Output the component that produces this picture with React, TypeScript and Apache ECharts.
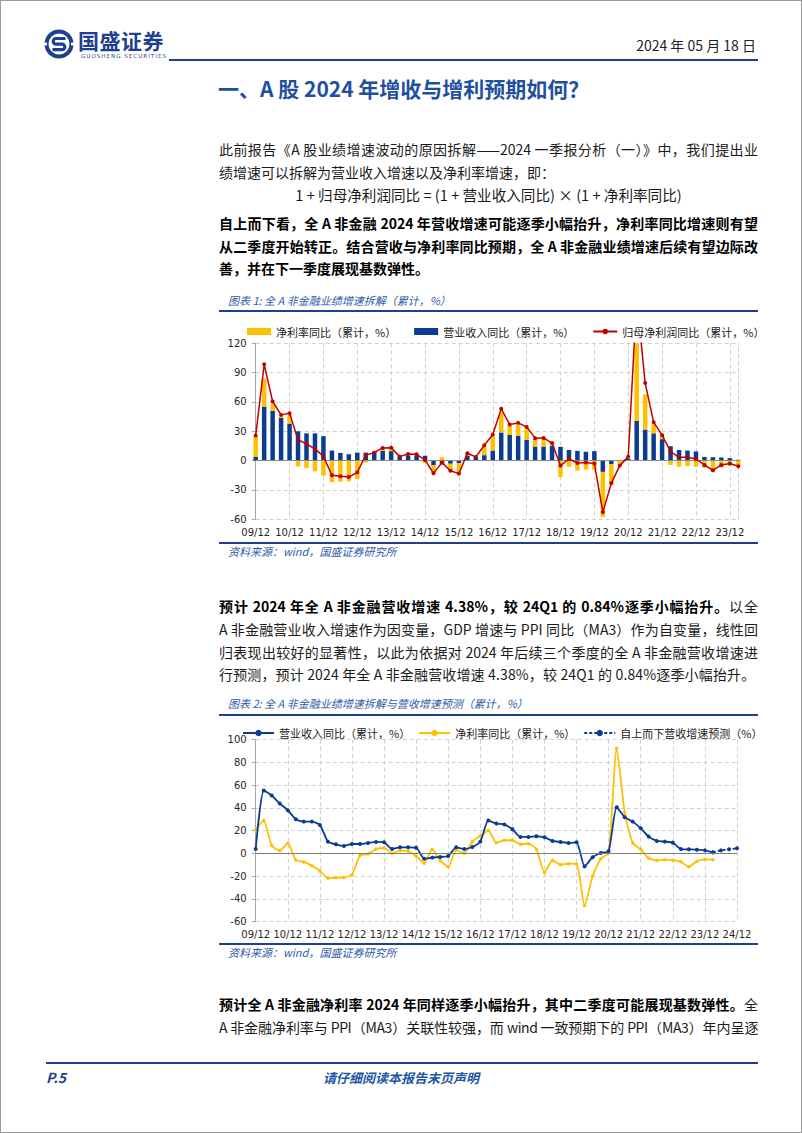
import React, { useEffect, useRef } from "react";
import * as echarts from "echarts";

// ---------- data ----------
const quarterMonths = ["03", "06", "09", "12"];
const yearCodes = ["10", "11", "12", "13", "14", "15", "16", "17", "18", "19", "20", "21", "22", "23", "24"];

// chart 1: 09/12 .. 24/03 (58 quarters); chart 2: 09/12 .. 24/12 (61 quarters)
const categories2: string[] = ["09/12"];
yearCodes.forEach((y) => quarterMonths.forEach((m) => categories2.push(`${y}/${m}`)));
const categories1: string[] = categories2.slice(0, 58);

// 营业收入同比（累计，%）
const revenueYoY = [
  3.8, 55.3, 50.9, 43.8, 37.9, 30.0, 27.9, 27.9, 25.0, 10.3,
  7.9, 6.5, 8.2, 8.2, 9.1, 10.0, 9.7, 3.8, 5.3, 5.3,
  5.0, -4.7, -3.8, -3.2, -2.4, 5.3, 3.8, 5.6, 10.3, 28.8,
  26.2, 25.3, 21.2, 14.4, 14.4, 15.0, 14.1, 10.9, 10.0, 9.1,
  9.7, -11.5, -3.5, 0.3, 2.0, 40.6, 31.8, 27.9, 22.0, 14.7,
  10.9, 10.3, 9.4, 3.8, 3.5, 3.2, 2.6, 0.84,
];

// 净利率同比（累计，%）
const marginYoY = [
  21.2, 28.8, 6.8, 2.4, 8.8, -5.9, -7.6, -10.9, -15.3, -22.0,
  -21.5, -21.2, -18.8, -2.0, -0.6, 3.8, 4.7, 0.0, 2.4, 2.0,
  -2.4, -8.8, 3.5, -6.5, -11.8, 2.9, 0.0, 10.3, 15.3, 20.0,
  9.4, 11.5, 11.5, 7.9, 8.5, 3.5, -16.8, -6.2, -10.0, -9.1,
  -9.4, -45.9, -20.0, -5.0, 0.5, 92.4, 36.0, 9.2, 3.5, -4.4,
  -6.2, -5.6, -6.2, -7.4, -11.8, -7.0, -5.3, -5.6,
];

// 归母净利润同比（累计，%）
const profitYoY = [
  25.6, 98.5, 60.5, 46.8, 48.5, 21.5, 17.0, 12.0, 4.4, -15.0,
  -16.0, -16.8, -12.0, 5.8, 8.2, 13.0, 13.3, 4.1, 6.8, 6.5,
  0.7, -13.0, -2.0, -10.3, -13.3, 7.5, 3.8, 15.7, 26.7, 53.0,
  37.0, 38.6, 34.5, 23.0, 23.2, 18.0, -5.1, 1.7, -2.4, -2.0,
  -3.0, -52.6, -23.2, -5.1, 4.1, 167.0, 79.3, 39.3, 26.0, 9.2,
  3.4, 3.4, 1.7, -4.4, -9.9, -4.4, -3.0, -5.8,
];

// 自上而下营收增速预测（%）: 24/03 .. 24/12
const forecastStart = 57;
const revenueForecast = [0.84, 2.6, 3.5, 4.38];

const chart1YTicks = { min: -60, max: 120, interval: 30 };
const chart2YTicks = { min: -60, max: 100, interval: 20 };

const N1_MARGIN = "净利率同比（累计，%）";
const N1_REV = "营业收入同比（累计，%）";
const N1_PROFIT = "归母净利润同比（累计，%）";
const N2_FC = "自上而下营收增速预测（%）";

// ---------- styles ----------
const BLUE = "#0B3C93";
const GOLD = "#FFC000";
const RED = "#C00000";
const GRID = "#D0D0D0";
const AXIS = "#A6A6A6";
const CJK = '"Noto Sans CJK SC", "Noto Sans", sans-serif';
const NUM = '"DejaVu Sans", sans-serif';
const DARKBLUE = "#1F3F8F";
const CAPBLUE = "#2E5BA8";

const zeroLine = (color: string) => ({
  silent: true,
  symbol: ["none", "none"],
  label: { show: false },
  lineStyle: { color, type: "solid", width: 1 },
  emphasis: { disabled: true },
  data: [{ yAxis: 0 }],
});

function makeOption1() {
  return {
    animation: false,
    textStyle: { fontFamily: CJK },
    legend: {
      left: 241,
      top: 8,
      itemWidth: 24,
      itemHeight: 7,
      itemGap: 18,
      textStyle: { fontSize: 11, color: "#222", fontFamily: CJK },
      data: [
        { name: N1_MARGIN, icon: "rect" },
        { name: N1_REV, icon: "rect" },
        { name: N1_PROFIT },
      ],
    },
    grid: { left: 254.7, right: 64.7, top: 30.3, bottom: 23.7 },
    xAxis: {
      type: "category",
      data: categories1,
      boundaryGap: false,
      axisLine: { show: false },
      axisTick: { show: false },
      axisLabel: { interval: 3, fontSize: 10, color: "#262626", margin: 8, fontFamily: NUM },
      splitLine: { show: true, interval: 3, lineStyle: { color: GRID, type: [4, 3], width: 1 } },
    },
    yAxis: [
      {
        type: "value",
        ...chart1YTicks,
        axisLine: { show: true, lineStyle: { color: AXIS } },
        axisTick: { show: true, length: 4, lineStyle: { color: AXIS } },
        axisLabel: { fontSize: 10, color: "#262626", margin: 9, fontFamily: NUM },
        splitLine: { show: true, lineStyle: { color: GRID, type: [4, 3], width: 1 } },
      },
      {
        type: "value",
        position: "right",
        ...chart1YTicks,
        axisLine: { show: true, lineStyle: { color: GRID, type: [4, 3] } },
        axisTick: { show: false },
        axisLabel: { show: false },
        splitLine: { show: false },
      },
    ],
    series: [
      {
        name: N1_REV,
        type: "bar",
        stack: "total",
        data: revenueYoY,
        barWidth: 4.5,
        itemStyle: { color: BLUE },
        markLine: zeroLine("#8C8C8C"),
      },
      {
        name: N1_MARGIN,
        type: "bar",
        stack: "total",
        data: marginYoY,
        barWidth: 4.5,
        itemStyle: { color: GOLD },
      },
      {
        name: N1_PROFIT,
        type: "line",
        data: profitYoY,
        symbol: "circle",
        symbolSize: 4,
        lineStyle: { color: RED, width: 1.5 },
        itemStyle: { color: RED },
        z: 5,
      },
    ],
  };
}

function makeOption2() {
  const fc = categories2.map((_, i) =>
    i >= forecastStart && i - forecastStart < revenueForecast.length ? revenueForecast[i - forecastStart] : null
  );
  return {
    animation: false,
    textStyle: { fontFamily: CJK },
    legend: {
      left: 236,
      top: 5.5,
      itemWidth: 31,
      itemHeight: 8,
      itemGap: 8,
      textStyle: { fontSize: 11, color: "#222", fontFamily: CJK },
      data: [{ name: N1_REV }, { name: N1_MARGIN }, { name: N2_FC }],
    },
    grid: { left: 254.7, right: 66, top: 22.7, bottom: 22.5 },
    xAxis: {
      type: "category",
      data: categories2,
      boundaryGap: false,
      axisLine: { show: false },
      axisTick: { show: false },
      axisLabel: { interval: 3, fontSize: 10, color: "#262626", margin: 8, fontFamily: NUM },
      splitLine: { show: true, interval: 3, lineStyle: { color: GRID, type: [4, 3], width: 1 } },
    },
    yAxis: {
      type: "value",
      ...chart2YTicks,
      axisLine: { show: true, lineStyle: { color: AXIS } },
      axisTick: { show: true, length: 4, lineStyle: { color: AXIS } },
      axisLabel: { fontSize: 10, color: "#262626", margin: 9, fontFamily: NUM },
      splitLine: { show: true, lineStyle: { color: GRID, type: [4, 3], width: 1 } },
    },
    series: [
      {
        name: N1_REV,
        type: "line",
        data: revenueYoY,
        smooth: 0.2,
        symbol: "circle",
        symbolSize: 4,
        lineStyle: { color: BLUE, width: 1.8 },
        itemStyle: { color: BLUE },
        markLine: zeroLine("#7F7F7F"),
        z: 4,
      },
      {
        name: N1_MARGIN,
        type: "line",
        data: marginYoY,
        smooth: 0.2,
        symbol: "circle",
        symbolSize: 3.5,
        lineStyle: { color: GOLD, width: 1.8 },
        itemStyle: { color: GOLD },
        z: 3,
      },
      {
        name: N2_FC,
        type: "line",
        data: fc,
        symbol: "circle",
        symbolSize: 4,
        lineStyle: { color: BLUE, width: 1.8, type: [3, 2] },
        itemStyle: { color: BLUE },
        z: 4,
      },
    ],
  };
}

function EChart({ option, style }: { option: any; style: React.CSSProperties }) {
  const ref = useRef<HTMLDivElement>(null);
  useEffect(() => {
    if (!ref.current) return;
    const chart = echarts.init(ref.current, undefined, { renderer: "svg" });
    chart.setOption(option);
    return () => chart.dispose();
  }, [option]);
  return <div ref={ref} style={style} />;
}

type LineProps = {
  y: number;
  children: React.ReactNode;
  justify?: boolean;
  center?: boolean;
  bold?: boolean;
  left?: number;
  width?: number;
  size?: number;
  color?: string;
  italic?: boolean;
  spacing?: number;
};

function TextLine({ y, children, justify, center, bold, left = 218, width = 539, size = 14, color = "#1a1a1a", italic, spacing }: LineProps) {
  return (
    <div
      style={{
        position: "absolute",
        left,
        top: y - 10,
        width,
        height: 20,
        lineHeight: "20px",
        fontSize: size,
        fontFamily: CJK,
        color,
        fontWeight: bold ? 700 : 400,
        fontStyle: italic ? "italic" : "normal",
        textAlign: justify ? "justify" : center ? "center" : "left",
        textAlignLast: justify ? "justify" : center ? "center" : "left",
        whiteSpace: "nowrap",
        letterSpacing: spacing,
      }}
    >
      {children}
    </div>
  );
}

function Rule({ x1, x2, y, w = 2, color = DARKBLUE }: { x1: number; x2: number; y: number; w?: number; color?: string }) {
  return <div style={{ position: "absolute", left: x1, top: y - w / 2, width: x2 - x1, height: w, background: color }} />;
}

const option1 = makeOption1();
const option2 = makeOption2();

export default function App() {
  return (
    <div
      style={{
        position: "absolute",
        left: 0,
        top: 0,
        width: 802,
        height: 1133,
        background: "#fff",
        overflow: "hidden",
        boxSizing: "border-box",
        border: "1px solid #9a9a9a",
        fontFamily: CJK,
      }}
    >
      {/* header */}
      <svg style={{ position: "absolute", left: 42, top: 27 }} width={32} height={32} viewBox="0 0 32 32">
        <circle cx={16} cy={16} r={14.5} fill={DARKBLUE} />
        <circle cx={16} cy={16} r={10.5} fill="#fff" />
        <rect x={0} y={14.6} width={4} height={2.8} fill="#fff" />
        <rect x={28} y={14.6} width={4} height={2.8} fill="#fff" />
        <path d="M22.5 10.5 H13 a2.8 2.8 0 0 0 0 5.6 h6 a2.8 2.8 0 0 1 0 5.6 H9.5" stroke={DARKBLUE} strokeWidth={3.2} fill="none" />
      </svg>
      <div style={{ position: "absolute", left: 77, top: 28, fontSize: 21, lineHeight: "22px", height: 22, fontWeight: 700, color: DARKBLUE, fontFamily: CJK, letterSpacing: 0.5 }}>
        国盛证券
      </div>
      <div style={{ position: "absolute", left: 80, top: 52, fontSize: 5.5, lineHeight: "6px", height: 6, color: DARKBLUE, fontFamily: '"DejaVu Sans", sans-serif', letterSpacing: 1.05, whiteSpace: "nowrap" }}>
        GUOSHENG SECURITIES
      </div>
      <div style={{ position: "absolute", right: 802 - 757, top: 35, fontSize: 14, lineHeight: "18px", color: "#222", fontFamily: CJK, whiteSpace: "nowrap" }}>
        2024 年 05 月 18 日
      </div>
      <Rule x1={168} x2={757} y={59} w={2} />

      <TextLine y={87} size={21} bold color="#1F4F9F" left={217} width={540}>
        一、A 股 2024 年增收与增利预期如何？
      </TextLine>

      {/* paragraph 1 */}
      <TextLine y={148} justify>
        此前报告《A 股业绩增速波动的原因拆解——2024 一季报分析（一）》中，我们提出业
      </TextLine>
      <TextLine y={171}>绩增速可以拆解为营业收入增速以及净利率增速，即：</TextLine>
      <TextLine y={194} center size={14.6}>
        1 + 归母净利润同比 = (1 + 营业收入同比) × (1 + 净利率同比)
      </TextLine>
      <TextLine y={222} justify bold color="#000">
        自上而下看，全 A 非金融 2024 年营收增速可能逐季小幅抬升，净利率同比增速则有望
      </TextLine>
      <TextLine y={245} justify bold color="#000">
        从二季度开始转正。结合营收与净利率同比预期，全 A 非金融业绩增速后续有望边际改
      </TextLine>
      <TextLine y={267} bold color="#000">
        善，并在下一季度展现基数弹性。
      </TextLine>

      {/* chart 1 */}
      <TextLine y={299} left={227} width={400} size={11} italic color={CAPBLUE}>
        图表 1: 全 A 非金融业绩增速拆解（累计，%）
      </TextLine>
      <Rule x1={218} x2={757} y={310} w={1.6} />
      <EChart option={option1} style={{ position: "absolute", left: 0, top: 312, width: 802, height: 230 }} />
      <Rule x1={218} x2={757} y={542} w={1.6} />
      <TextLine y={550} left={227} width={300} size={11} italic color={CAPBLUE}>
        资料来源：wind，国盛证券研究所
      </TextLine>

      {/* paragraph 2 */}
      <TextLine y={605} justify color="#1a1a1a">
        <b style={{ color: "#000" }}>预计 2024 年全 A 非金融营收增速 4.38%，较 24Q1 的 0.84%逐季小幅抬升。</b>以全
      </TextLine>
      <TextLine y={628} justify>
        A 非金融营业收入增速作为因变量，GDP 增速与 PPI 同比（MA3）作为自变量，线性回
      </TextLine>
      <TextLine y={651} justify>
        归表现出较好的显著性，以此为依据对 2024 年后续三个季度的全 A 非金融营收增速进
      </TextLine>
      <TextLine y={673} spacing={0.15}>行预测，预计 2024 年全 A 非金融营收增速 4.38%，较 24Q1 的 0.84%逐季小幅抬升。</TextLine>

      {/* chart 2 */}
      <TextLine y={702} left={227} width={400} size={11} italic color={CAPBLUE}>
        图表 2: 全 A 非金融业绩增速拆解与营收增速预测（累计，%）
      </TextLine>
      <Rule x1={218} x2={757} y={714} w={1.6} />
      <EChart option={option2} style={{ position: "absolute", left: 0, top: 716, width: 802, height: 227 }} />
      <Rule x1={218} x2={757} y={943} w={1.6} />
      <TextLine y={951} left={227} width={300} size={11} italic color={CAPBLUE}>
        资料来源：wind，国盛证券研究所
      </TextLine>

      {/* paragraph 3 */}
      <TextLine y={1003} justify>
        <b style={{ color: "#000" }}>预计全 A 非金融净利率 2024 年同样逐季小幅抬升，其中二季度可能展现基数弹性。</b>全
      </TextLine>
      <TextLine y={1026} justify size={14} spacing={-0.45}>
        A 非金融净利率与 PPI（MA3）关联性较强，而 wind 一致预期下的 PPI（MA3）年内呈逐
      </TextLine>

      {/* footer */}
      <Rule x1={45} x2={757} y={1062} w={2} />
      <TextLine y={1076} left={45} width={60} size={14} bold italic color={DARKBLUE}>
        P.5
      </TextLine>
      <TextLine y={1077} left={300} width={200} size={13} bold italic center color="#2155A4">
        请仔细阅读本报告末页声明
      </TextLine>
    </div>
  );
}
